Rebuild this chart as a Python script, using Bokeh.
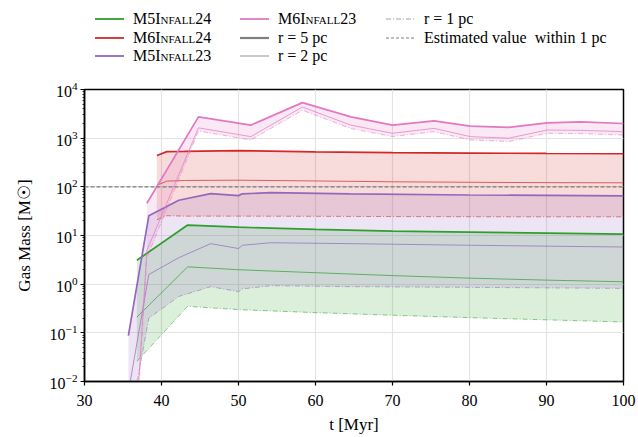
import math
from bokeh.plotting import figure
from bokeh.models import Span, Div, FixedTicker
from bokeh.layouts import column
from bokeh.embed import file_html
from bokeh.resources import INLINE

nan = float("nan")

# ---------------- data ----------------
x_ticks = [30, 40, 50, 60, 70, 80, 90, 100]
estimated_value = 100

# M5Infall24 (green)
t_m5i24 = [36.8, 43.4, 50, 60, 70, 80, 90, 100]
m5i24_r5 = [3.1, 16.4, 14.8, 13.3, 12.3, 11.7, 11.2, 10.7]
m5i24_r2 = [0.21, 2.27, 1.98, 1.72, 1.50, 1.33, 1.21, 1.12]
m5i24_r1 = [0.026, 0.35, 0.30, 0.26, 0.23, 0.205, 0.185, 0.167]

# M6Infall24 (red)
t_m6i24 = [39.4, 40.7, 43.0, 50, 60, 70, 80, 90, 100]
m6i24_r5 = [440, 530, 535, 555, 525, 505, 495, 485, 478]
m6i24_r2 = [108, 131, 135, 137, 132, 127, 124, 122, 121]
m6i24_r1 = [21, 25.5, 25, 25, 24.8, 24.5, 24.3, 24.2, 24.2]

# M5Infall23 (purple)
t_m5i23 = [35.7, 38.35, 42.25, 46.4, 50.0, 50.5, 54.2, 64.5, 80, 100]
m5i23_r5 = [0.088, 25.4, 53, 72.5, 66, 72, 76, 72, 68, 65]
m5i23_r2 = [0.006, 1.58, 3.5, 6.8, 5.4, 6.3, 7.1, 6.8, 6.3, 5.8]
m5i23_r1 = [0.001, 0.2, 0.56, 0.89, 0.70, 0.80, 0.93, 0.89, 0.86, 0.82]

# M6Infall23 (pink)
t_m6i23 = [37.0, 38.1, 44.8, 51.6, 58.3, 64.6, 70.0, 75.4, 80.1, 85.1, 90.1, 94.4, 100]
m6i23_r5 = [nan, 46, 2740, 1850, 5370, 2740, 1850, 2270, 1770, 1670, 2070, 2160, 2000]
m6i23_r2 = [0.008, 4.9, 1630, 1075, 4370, 1850, 1260, 1590, 1075, 1000, 1470, 1450, 1360]
m6i23_r1 = [0.005, 3.5, 1400, 920, 3750, 1580, 1080, 1360, 920, 855, 1260, 1240, 1160]

sim_names = ["M5Infall24", "M6Infall24", "M5Infall23", "M6Infall23"]
sim_colors = ["#2ca02c", "#d62728", "#9467bd", "#e377c2"]
sims = [
    (t_m5i24, m5i24_r5, m5i24_r2, m5i24_r1),
    (t_m6i24, m6i24_r5, m6i24_r2, m6i24_r1),
    (t_m5i23, m5i23_r5, m5i23_r2, m5i23_r1),
    (t_m6i23, m6i23_r5, m6i23_r2, m6i23_r1),
]
radius_labels = ["r = 5 pc", "r = 2 pc", "r = 1 pc"]
estimate_label = "Estimated value  within 1 pc"

FONT = "'Liberation Serif', 'DejaVu Serif', serif"
DASHDOT = "5 2 1 2"

# ---------------- main figure ----------------
p = figure(width=638, height=358, x_range=(30, 100), y_range=(1e-2, 1e4),
           y_axis_type="log", output_backend="svg", toolbar_location=None,
           min_border_left=84, min_border_right=15, min_border_top=11,
           min_border_bottom=52)

p.background_fill_color = "white"
p.outline_line_color = "black"
p.outline_line_width = 1.5
p.outline_line_alpha = 1.0

p.xgrid.grid_line_color = "#e3e3e3"
p.ygrid.grid_line_color = "#e3e3e3"
p.xgrid.grid_line_width = 1.2
p.ygrid.grid_line_width = 1.2

p.xaxis.ticker = FixedTicker(ticks=x_ticks)
for ax in (p.xaxis[0], p.yaxis[0]):
    ax.axis_line_width = 1.5
    ax.axis_line_color = "black"
    ax.major_tick_line_color = "black"
    ax.minor_tick_line_color = "black"
    ax.major_tick_line_width = 1.2
    ax.minor_tick_line_width = 0.8
    ax.major_tick_in = 0
    ax.major_tick_out = 4
    ax.minor_tick_in = 0
    ax.minor_tick_out = 2
    ax.major_label_text_font = FONT
    ax.major_label_text_font_size = "16px"
    ax.major_label_text_color = "black"
    ax.axis_label_text_font = FONT
    ax.axis_label_text_font_size = "17px"
    ax.axis_label_text_font_style = "normal"
    ax.axis_label_text_color = "black"

p.xaxis.major_label_standoff = 9
p.xaxis.axis_label_standoff = 6
p.yaxis.major_label_standoff = 3
p.yaxis.axis_label_standoff = 13
p.xaxis.axis_label = "t [Myr]"
p.yaxis.axis_label = "Gas Mass [M\u2609]"

# fills between r = 5 pc and r = 1 pc
for (t, r5, r2, r1), col in zip(sims, sim_colors):
    idx = [i for i in range(len(t)) if not math.isnan(r5[i])]
    p.varea(x=[t[i] for i in idx], y1=[r1[i] for i in idx], y2=[r5[i] for i in idx],
            fill_color=col, fill_alpha=0.17)

# lines
for (t, r5, r2, r1), col in zip(sims, sim_colors):
    p.line(t, r1, line_color=col, line_width=1.0, line_alpha=0.55, line_dash=DASHDOT)
    p.line(t, r2, line_color=col, line_width=1.0, line_alpha=0.7)
    p.line(t, r5, line_color=col, line_width=1.7)

p.add_layout(Span(location=estimated_value, dimension="width", line_color="#7a7a7a",
                  line_width=1.3, line_dash="4 2"))

# ---------------- legend (HTML, above the axes) ----------------
legend_entries = [
    (sim_names[0], sim_colors[0], 1.8, "", True),
    (sim_names[1], sim_colors[1], 1.8, "", True),
    (sim_names[2], sim_colors[2], 1.8, "", True),
    (sim_names[3], sim_colors[3], 1.8, "", True),
    (radius_labels[0], "#808080", 2.2, "", False),
    (radius_labels[1], "#b0b0b0", 1.4, "", False),
    (radius_labels[2], "#a0a0a0", 1.0, "5,2,1,2", False),
    (estimate_label, "#808080", 1.0, "3,2", False),
]
col_x = [95, 240, 386]
row_y = [19, 37.5, 56]
items = []
for k, (lab, colr, lw, dash, sc) in enumerate(legend_entries):
    c, r = divmod(k, 3)
    dash_attr = f' stroke-dasharray="{dash}"' if dash else ""
    style_lab = "font-variant:small-caps;" if sc else ""
    items.append(
        f'<div style="position:absolute;left:{col_x[c]}px;top:{row_y[r]-9}px;height:18px;'
        f'line-height:18px;white-space:pre;">'
        f'<svg width="29" height="18" style="vertical-align:top">'
        f'<line x1="0" y1="9" x2="29" y2="9" stroke="{colr}" stroke-width="{lw}"{dash_attr}/></svg>'
        f'<span style="margin-left:9px;{style_lab}">{lab}</span></div>'
    )
legend_html = ('<div style="position:relative;width:638px;height:78px;'
               'font-family:\'Liberation Serif\',\'DejaVu Serif\',serif;'
               'font-size:16px;color:black;">' + "".join(items) + '</div>')
legend_div = Div(text=legend_html, width=638, height=78, margin=(0, 0, 0, 0))

layout = column(legend_div, p, spacing=0)
open("out.html", "w").write(file_html(layout, INLINE))
